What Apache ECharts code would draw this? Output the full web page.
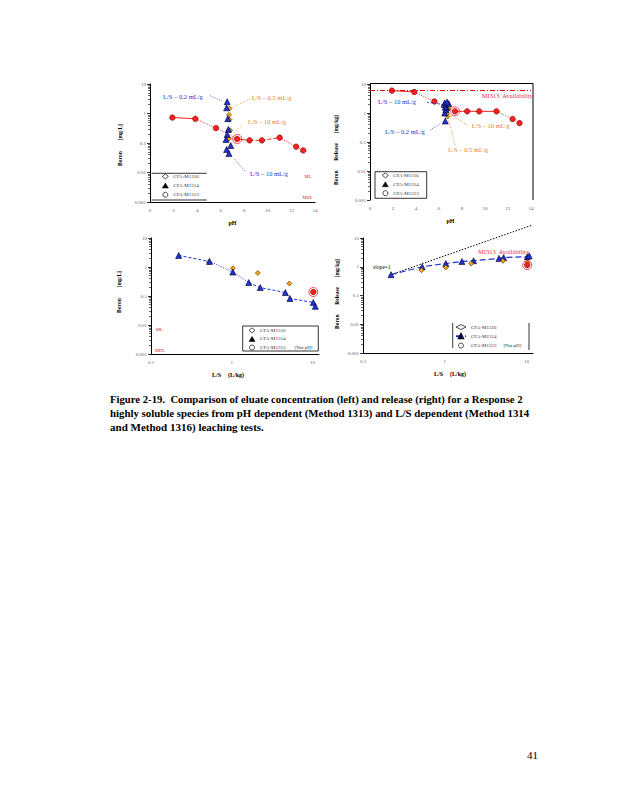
<!DOCTYPE html>
<html>
<head>
<meta charset="utf-8">
<title>Figure 2-19</title>
<script src="https://cdn.jsdelivr.net/npm/echarts@6.0.0/dist/echarts.min.js"></script>
<style>
html,body{margin:0;padding:0;background:#ffffff;}
#chart{width:618px;height:800px;}
</style>
</head>
<body>
<div id="chart"></div>
<script>
// ---------------- data ----------------
// Method 1313 (pH dependent): eluate concentration [mg/L], release [mg/kg]
const pH1313 = [1.9, 3.85, 5.6, 7.4, 8.45, 9.5, 11.0, 12.4, 13.0];
const conc1313 = [0.73, 0.66, 0.32, 0.137, 0.123, 0.123, 0.152, 0.075, 0.056];
const release1313 = [5.9, 5.3, 2.5, 1.14, 1.14, 1.14, 1.14, 0.62, 0.45];
const natural1313Index = [3];
const natural1313LS = [10.2];
// Method 1314 (column, L/S dependent)
const LS1314 = [0.22, 0.53, 1.03, 1.62, 2.25, 4.6, 5.25, 10.2, 10.8];
const pH1314 = [6.55, 6.5, 6.6, 6.65, 6.55, 6.45, 6.85, 6.5, 6.7];
const conc1314 = [2.5, 1.56, 0.67, 0.29, 0.195, 0.132, 0.082, 0.06, 0.044];
const release1314 = [0.53, 1.0, 1.3, 1.53, 1.62, 1.95, 2.1, 2.23, 2.4];
// Method 1316 (batch, L/S dependent)
const LS1316 = [0.52, 1.03, 2.1, 5.15, 10.3];
const pH1316 = [6.75, 6.7, 6.75, 6.8, 6.7];
const conc1316 = [1.48, 0.9, 0.62, 0.27, 0.14];
const release1316 = [0.76, 0.95, 1.3, 1.6, 1.4];
// reference levels
const availability1313 = [5.9];
const MLvalue = [0.0048];
const MDLvalue = [0.001];
const slopeLineLS = [0.22, 11.7];
const slopeLineRelease = [0.53, 28];
// tick labels
const pHTicks = [0, 2, 4, 6, 8, 10, 12, 14];
const logYTickLabels = ['0.001', '0.01', '0.1', '1', '10'];
const logXTickLabels = ['0.1', '1', '10'];
const legendLabels = ['CFA-M1316', 'CFA-M1314', 'CFA-M1313'];
const captionLines = [
  'Figure 2-19.  Comparison of eluate concentration (left) and release (right) for a Response 2',
  'highly soluble species from pH dependent (Method 1313) and L/S dependent (Method 1314',
  'and Method 1316) leaching tests.'
];

// ---------------- styling ----------------
const FONT = '"Liberation Serif", "Times New Roman", serif';
const RED = '#ff2020', RED_EDGE = '#700000', BLUE = '#2030d8', ORANGE = '#f7a51e';
const tickLabelStyle = { fontSize: 5, color: '#56657a', fontFamily: FONT };

function pts(xs, ys) { return xs.map((x, i) => [x, ys[i]]); }
function fmtTick(v, labels) {
  for (const t of labels) if (Math.abs(Math.log10(+t) - Math.log10(v)) < 1e-6) return t;
  return '';
}
function logY(gi) {
  return {
    type: 'log', logBase: 10, gridIndex: gi, min: 0.001, max: 10,
    axisLine: { show: true, lineStyle: { color: '#000', width: 1 } },
    axisTick: { show: true, length: 3, lineStyle: { color: '#000', width: 0.8 } },
    minorTick: { show: true, splitNumber: 9, length: 2, lineStyle: { color: '#000', width: 0.6 } },
    splitLine: { show: false }, minorSplitLine: { show: false },
    axisLabel: Object.assign({}, tickLabelStyle, { margin: 4, formatter: v => fmtTick(v, logYTickLabels) })
  };
}
function pHX(gi, showLine) {
  return {
    type: 'value', gridIndex: gi, min: 0, max: 14, interval: 2,
    name: 'pH', nameLocation: 'middle', nameGap: 18,
    nameTextStyle: { fontFamily: FONT, fontSize: 6, fontWeight: 'bold', color: '#000' },
    axisLine: { show: showLine, lineStyle: { color: '#000' } },
    axisTick: { show: false }, splitLine: { show: false },
    axisLabel: Object.assign({}, tickLabelStyle, { margin: 6, formatter: v => pHTicks.includes(v) ? String(v) : '' })
  };
}
function lsX(gi) {
  return {
    type: 'log', logBase: 10, gridIndex: gi, min: 0.1, max: 12,
    axisLine: { show: true, lineStyle: { color: '#000' } },
    axisTick: { show: false }, splitLine: { show: false },
    axisLabel: Object.assign({}, tickLabelStyle, { margin: 6, formatter: v => fmtTick(v, logXTickLabels) })
  };
}
function seg(gi, xs, ys, a, b, type, color, w) {
  return {
    type: 'line', xAxisIndex: gi, yAxisIndex: gi, data: pts(xs, ys).slice(a, b + 1),
    symbol: 'none', silent: true, z: 2, animation: false,
    lineStyle: { color: color, width: w || 1, type: type }
  };
}
function sc(gi, name, data, symbol, color, edge, size, z) {
  return {
    type: 'scatter', name: name, xAxisIndex: gi, yAxisIndex: gi, data: data,
    symbol: symbol, symbolSize: size, z: z || 4, animation: false,
    itemStyle: { color: color, borderColor: edge, borderWidth: 0.6, opacity: 1 }
  };
}
function ring(gi, data) {
  return {
    type: 'scatter', xAxisIndex: gi, yAxisIndex: gi, data: data, symbol: 'circle', symbolSize: 9,
    z: 5, silent: true, animation: false,
    itemStyle: { color: 'rgba(0,0,0,0)', borderColor: RED, borderWidth: 1 }
  };
}
function levelLines(gi) {
  return {
    type: 'line', xAxisIndex: gi, yAxisIndex: gi, data: [], animation: false,
    markLine: {
      symbol: 'none', silent: true, label: { show: false }, animation: false,
      data: [
        { yAxis: MLvalue[0], lineStyle: { type: [5, 3], color: '#c00000', width: 1 } },
        { yAxis: MDLvalue[0], lineStyle: { type: 'solid', color: '#d00000', width: 1.2 } }
      ]
    }
  };
}
const outline = { color: '#ffffff', borderColor: '#000', borderWidth: 0.7 };
function mkLegend(prefix, left, top, gap, iconW, natGap, lineItem) {
  const names = [prefix + '1316', prefix + '1314', prefix + '1313'];
  const labelOf = {}; names.forEach((n, i) => labelOf[n] = legendLabels[i]);
  const data = [
    { name: names[0], icon: 'diamond', itemStyle: outline },
    lineItem ? { name: names[1] } : { name: names[1], icon: 'triangle', itemStyle: { color: '#000', borderColor: '#000', borderWidth: 0.5 } },
    { name: names[2], icon: 'circle', itemStyle: outline }
  ];
  return {
    show: true, orient: 'vertical', left: left, top: top, padding: 0, itemGap: gap,
    itemWidth: iconW, itemHeight: 5, z: 40, selectedMode: false, symbolKeepAspect: true,
    data: data,
    formatter: n => (natGap && n === names[2]) ? '{a|' + labelOf[n] + '}{b|[Nat pH]}' : labelOf[n],
    textStyle: {
      fontSize: 5, fontFamily: FONT, color: '#333', lineHeight: 5,
      rich: { a: { fontSize: 5, fontFamily: FONT, color: '#333' }, b: { fontSize: 5, fontFamily: FONT, color: '#333', padding: [0, 0, 0, natGap || 0] } }
    }
  };
}

// graphic helpers
function gText(x, y, text, opts, extra) {
  return Object.assign({
    type: 'text', x: x, y: y, z: 30, silent: true,
    style: Object.assign({ text: text, fill: '#000', fontFamily: FONT, fontSize: 6.5, align: 'left', verticalAlign: 'middle' }, opts || {})
  }, extra || {});
}
function gLine(x1, y1, x2, y2, stroke, dash, w) {
  return { type: 'line', z: 30, silent: true, shape: { x1, y1, x2, y2 }, style: { stroke: stroke, lineWidth: w || 0.8, lineDash: dash || null } };
}
function gRect(x, y, w, h, stroke) {
  return { type: 'rect', z: 15, silent: true, shape: { x: x, y: y, width: w, height: h }, style: { fill: '#ffffff', stroke: stroke || null, lineWidth: 0.8 } };
}

const nat = natural1313Index[0];
const series = [
  // ---- panel 1: concentration vs pH ----
  levelLines(0),
  seg(0, pH1313, conc1313, 0, 1, 'solid', RED),
  seg(0, pH1313, conc1313, 1, 3, [1, 1.5], RED),
  seg(0, pH1313, conc1313, 3, 4, 'solid', RED),
  seg(0, pH1313, conc1313, 4, 6, [4, 2], RED),
  seg(0, pH1313, conc1313, 6, 8, [1, 1.5], RED),
  sc(0, 'p1_1316', pts(pH1316, conc1316), 'diamond', ORANGE, '#3a2a00', 5, 4),
  sc(0, 'p1_1314', pts(pH1314, conc1314), 'triangle', BLUE, '#000022', 6, 4),
  sc(0, 'p1_1313', pts(pH1313, conc1313), 'circle', RED, RED_EDGE, 5.5, 4),
  ring(0, [[pH1313[nat], conc1313[nat]]]),
  // ---- panel 2: release vs pH ----
  {
    type: 'line', xAxisIndex: 1, yAxisIndex: 1, data: [], animation: false,
    markLine: { symbol: 'none', silent: true, label: { show: false }, animation: false,
      data: [{ yAxis: availability1313[0], lineStyle: { type: [5, 2, 1, 2], color: '#e00000', width: 1 } }] }
  },
  seg(1, pH1313, release1313, 0, 1, 'solid', RED),
  seg(1, pH1313, release1313, 1, 3, [1, 1.5], RED),
  seg(1, pH1313, release1313, 3, 6, 'solid', RED),
  seg(1, pH1313, release1313, 6, 8, [1, 1.5], RED),
  sc(1, 'p2_1316', pts(pH1316, release1316), 'diamond', ORANGE, '#3a2a00', 5, 4),
  sc(1, 'p2_1314', pts(pH1314, release1314), 'triangle', BLUE, '#000022', 6, 4),
  sc(1, 'p2_1313', pts(pH1313, release1313), 'circle', RED, RED_EDGE, 5.5, 4),
  ring(1, [[pH1313[nat], release1313[nat]]]),
  // ---- panel 3: concentration vs L/S ----
  levelLines(2),
  seg(2, LS1314, conc1314, 0, 1, [3, 2], BLUE),
  seg(2, LS1314, conc1314, 1, 3, [1, 1.5], BLUE),
  seg(2, LS1314, conc1314, 3, 8, [3, 2], BLUE),
  sc(2, 'p3_1316', pts(LS1316, conc1316), 'diamond', ORANGE, '#3a2a00', 5, 4),
  sc(2, 'p3_1314', pts(LS1314, conc1314), 'triangle', BLUE, '#000022', 6, 4),
  sc(2, 'p3_1313', [[natural1313LS[0], conc1313[nat]]], 'circle', RED, RED_EDGE, 5.5, 4),
  ring(2, [[natural1313LS[0], conc1313[nat]]]),
  // ---- panel 4: release vs L/S ----
  {
    type: 'line', xAxisIndex: 3, yAxisIndex: 3, data: pts(slopeLineLS, slopeLineRelease),
    symbol: 'none', silent: true, clip: false, z: 2, animation: false,
    lineStyle: { color: '#000', width: 1, type: [1.5, 1.5] }
  },
  {
    type: 'line', name: 'p4_1314', xAxisIndex: 3, yAxisIndex: 3, data: pts(LS1314, release1314),
    symbol: 'triangle', symbolSize: 6, z: 4, animation: false,
    lineStyle: { color: BLUE, width: 1.2, type: [6, 3] },
    itemStyle: { color: BLUE, borderColor: '#000022', borderWidth: 0.6 }
  },
  sc(3, 'p4_1316', pts(LS1316, release1316), 'diamond', ORANGE, '#3a2a00', 5, 4),
  sc(3, 'p4_1313', [[natural1313LS[0], release1313[nat]]], 'circle', RED, RED_EDGE, 5.5, 4),
  ring(3, [[natural1313LS[0], release1313[nat]]])
];

// caption scaling (fit the reference line widths)
const ctx = document.createElement('canvas').getContext('2d');
const capFont = 'bold 11px "Liberation Serif"';
ctx.font = capFont;
const capWidths = [413, 420, 154];
const capY = [399, 413, 427];
const captionEls = captionLines.map((t, i) => {
  const w = ctx.measureText(t).width || 1;
  return gText(110, capY[i], t, { fontSize: 11, fontWeight: 'bold', fill: '#000' }, { scaleX: capWidths[i] / w });
});

const ROT = Math.PI / 2;
const yTitle = { fontSize: 5.5, fontWeight: 'bold', align: 'center' };
const graphics = [
  // legend boxes
  gRect(151.7, 173.3, 55, 26.7, null),
  gLine(151.7, 173.3, 206.7, 173.3, '#000', null, 0.8),
  gLine(151.7, 200, 206.7, 200, '#000', null, 0.8),
  gRect(375, 171.7, 51.7, 26.6, '#000'),
  gRect(242.7, 326, 75.6, 25, '#000'),
  gLine(452.7, 323, 452.7, 348, '#000', null, 0.8),
  gLine(529, 323, 529, 350, '#000', null, 0.8),
  // panel 2 frame
  gLine(370, 83.5, 533, 83.5, '#000', null, 1),
  gLine(533, 83.5, 533, 200, '#000', null, 1),
  // panel 1 annotations
  gText(163, 96, 'L/S – 0.2 mL/g', { fill: '#2030d0' }),
  gLine(210, 95.7, 222, 101, '#2030d0', [1, 1.5]),
  gText(251.7, 97.7, 'L/S – 0.5 mL/g', { fill: '#f07c10' }),
  gLine(250, 99, 233.5, 106.5, '#f07c10', [1, 1.5]),
  gText(248, 121, 'L/S – 10 mL/g', { fill: '#f07c10' }),
  gLine(242, 124.5, 234.5, 133, '#f07c10', [1, 1.5]),
  gText(250, 173.3, 'L/S – 10 mL/g', { fill: '#2030d0' }),
  gLine(245, 171, 233.5, 158, '#2030d0', [1, 1.5]),
  gText(304.5, 176, 'ML', { fill: '#d02020', fontSize: 4.5 }),
  gText(302.5, 197.5, 'MDL', { fill: '#d02020', fontSize: 4.5 }),
  // panel 2 annotations
  gText(378, 101, 'L/S – 10 mL/g', { fill: '#2030d0' }),
  gLine(427, 102.3, 441.7, 104.3, '#2030d0', [2, 1.5]),
  gText(385, 131.7, 'L/S – 0.2 mL/g', { fill: '#2030d0' }),
  gLine(430, 130, 440, 124.3, '#2030d0', [1, 1.5]),
  gText(471.7, 125, 'L/S – 10 mL/g', { fill: '#f07c10' }),
  gLine(467, 125, 451, 115, '#f07c10', [1, 1.5]),
  gText(448.3, 149, 'L/S – 0.5 mL/g', { fill: '#f07c10' }),
  gLine(455, 145, 448.3, 118.3, '#f07c10', [1, 1.5]),
  gText(481.7, 95.7, 'MI313  Availability', { fill: '#e8285a' }),
  // panel 3 / 4 annotations
  gText(156, 329.3, 'ML', { fill: '#d02020', fontSize: 4.5 }),
  gText(155, 350.5, 'MDL', { fill: '#d02020', fontSize: 4.5 }),
  gText(373, 266.7, 'slope=1', { fontSize: 5.5 }),
  gText(478, 251, 'MI313  Availability', { fill: '#e8285a' }),
  // axis titles
  gText(212, 375, 'L/S', { fontSize: 6, fontWeight: 'bold' }),
  gText(228, 375, '(L/kg)', { fontSize: 6, fontWeight: 'bold' }),
  gText(434, 374, 'L/S', { fontSize: 6, fontWeight: 'bold' }),
  gText(450, 374, '(L/kg)', { fontSize: 6, fontWeight: 'bold' }),
  gText(120, 145, 'Boron        [mg/L]', yTitle, { rotation: ROT }),
  gText(336, 150, 'Boron       Release       [mg/kg]', yTitle, { rotation: ROT }),
  gText(119, 292, 'Boron        [mg/L]', yTitle, { rotation: ROT }),
  gText(337, 294, 'Boron       Release       [mg/kg]', yTitle, { rotation: ROT }),
  // page number
  gText(527, 755, '41', { fontSize: 11, fill: '#000' })
].concat(captionEls);

const option = {
  animation: false,
  backgroundColor: '#ffffff',
  textStyle: { fontFamily: FONT },
  grid: [
    { left: 150, top: 84, width: 165, height: 118 },
    { left: 370, top: 84, width: 161, height: 116 },
    { left: 151, top: 238, width: 168, height: 116 },
    { left: 363, top: 238, width: 170, height: 115 }
  ],
  xAxis: [pHX(0, true), pHX(1, false), lsX(2), lsX(3)],
  yAxis: [logY(0), logY(1), logY(2), logY(3)],
  legend: [
    mkLegend('p1_', 162, 173.5, 3.6, 6, 0, false),
    mkLegend('p2_', 382, 172.5, 3.3, 6, 0, false),
    mkLegend('p3_', 248.7, 327.5, 3, 6, 9, false),
    mkLegend('p4_', 455, 324.2, 3.4, 10, 7, true)
  ],
  series: series,
  graphic: { elements: graphics }
};

const chart = echarts.init(document.getElementById('chart'), null, { renderer: 'svg', width: 618, height: 800 });
chart.setOption(option);
</script>
</body>
</html>
